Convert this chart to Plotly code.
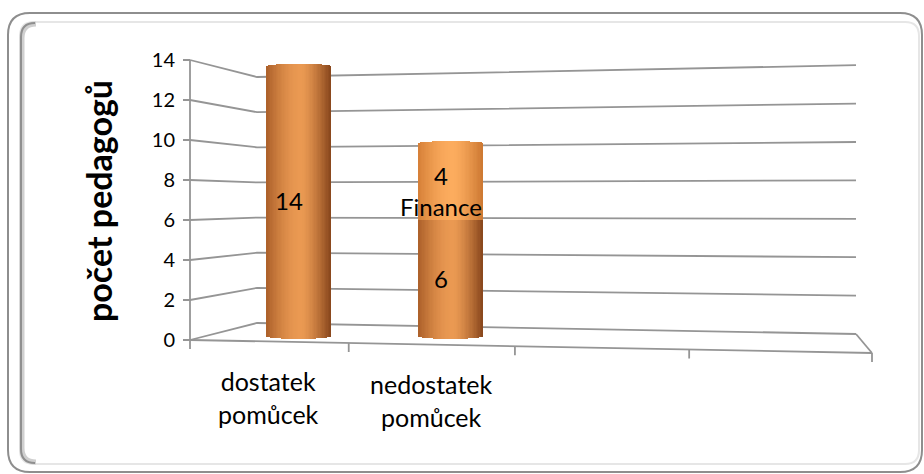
import numpy as np
import plotly.graph_objects as go

# ---- data -------------------------------------------------------------
categories = ["dostatek<br>pomůcek", "nedostatek<br>pomůcek"]
series_names = ["Pomůcky", "Finance"]
values_pomucky = [14, 6]
values_finance = [0, 4]
show_series_name = [False, True]
y_ticks = [0, 2, 4, 6, 8, 10, 12, 14]
n_slots = 4  # category slots along the floor (two left empty)

# ---- canvas / projection set-up ---------------------------------------
W, H = 924, 474
FLOOR_PY = 340.0     # front floor line at the value axis
PX_PER_UNIT = 20.0   # front wall scale


def U(py):
    """Screen row -> value units of the front wall axis."""
    return (FLOOR_PY - py) / PX_PER_UNIT


FRONT_X0, FRONT_X1 = 190.0, 872.0
FRONT_Y1 = 353.0
BACK_X0, BACK_X1 = 257.0, 856.0


def back_left(v):
    return U(323.0 - 17.57 * v)


def back_right(v):
    return U(334.0 - 19.2 * v)


def front_edge_py(x):
    return FLOOR_PY + (x - FRONT_X0) / (FRONT_X1 - FRONT_X0) * (FRONT_Y1 - FLOOR_PY)


def slot_x(t, g=-0.09):
    f = t * (1 + g) / (1 + g * t)
    return FRONT_X0 + (FRONT_X1 - FRONT_X0) * f


GRID = "#959595"
fig = go.Figure()

# walls: gridlines bent from side wall onto the back wall
gx, gy = [], []
for v in y_ticks:
    gx += [FRONT_X0, BACK_X0, BACK_X1, None]
    gy += [v, back_left(v), back_right(v), None]
fig.add_trace(go.Scatter(x=gx, y=gy, mode="lines",
                         line=dict(color=GRID, width=1.8), hoverinfo="skip",
                         showlegend=False))

# floor outline, value axis line and category ticks
fx = [FRONT_X0, FRONT_X1, None, BACK_X1, FRONT_X1, None, FRONT_X0, FRONT_X0, None]
fy = [0, U(FRONT_Y1), None, back_right(0), U(FRONT_Y1), None, 0, y_ticks[-1], None]
for k in range(n_slots + 1):
    x = slot_x(k / n_slots)
    py = front_edge_py(x)
    fx += [x, x, None]
    fy += [U(py), U(py + 9), None]
fig.add_trace(go.Scatter(x=fx, y=fy, mode="lines",
                         line=dict(color=GRID, width=1.8), hoverinfo="skip",
                         showlegend=False))

# ---- cylinders (drawn on an overlaying subplot so they sit above the walls)
BAR_X0, BAR_STEP, BAR_W = 299.0, 152.0, 64.0
BAR_BASE = U(336.0)
BAR_SCALE = 19.29 / PX_PER_UNIT
TOP_BULGE, BOTTOM_BULGE = 2.0 / PX_PER_UNIT, 3.0 / PX_PER_UNIT
N_SLICES = 48

palettes = [
    ((172, 96, 42), (234, 153, 82), (136, 70, 28)),
    ((214, 128, 56), (252, 172, 94), (204, 120, 50)),
]


def shade(s, pal, peak=0.55):
    left, mid, right = (np.array(c, float) for c in pal)
    if s <= peak:
        t = np.sin(s / peak * np.pi / 2)
        c = left + (mid - left) * t
    else:
        t = ((s - peak) / (1 - peak)) ** 1.4
        c = mid + (right - mid) * t
    return "rgb(%d,%d,%d)" % tuple(np.round(c).astype(int))


series = [values_pomucky, values_finance]
totals = np.sum(series, axis=0)
slice_w = BAR_W / N_SLICES
for si, (name, vals) in enumerate(zip(series_names, series)):
    xs, bases, heights, colors = [], [], [], []
    below = np.sum(series[:si], axis=0) if si else np.zeros(len(vals))
    for ci, v in enumerate(vals):
        if v == 0:
            continue
        cx = BAR_X0 + BAR_STEP * ci
        is_top = below[ci] + v == totals[ci]
        for k in range(N_SLICES):
            s = (k + 0.5) / N_SLICES
            e = np.sqrt(max(0.0, 1 - (2 * s - 1) ** 2))
            b = BAR_BASE + BAR_SCALE * below[ci]
            top = b + BAR_SCALE * v
            if si == 0:
                b -= BOTTOM_BULGE * e
            if is_top:
                top += TOP_BULGE * e
            xs.append(cx - BAR_W / 2 + (k + 0.5) * slice_w)
            bases.append(b)
            heights.append(top - b)
            colors.append(shade(s, palettes[si]))
    fig.add_trace(go.Bar(x=xs, y=heights, base=bases, width=slice_w * 1.15,
                         marker=dict(color=colors, line=dict(width=0)),
                         name=name, hoverinfo="skip", showlegend=False,
                         xaxis="x2", yaxis="y2"))

# data labels
LABEL_FONT = dict(family="Lato", size=24, color="#000000")
for si, (name, vals) in enumerate(zip(series_names, series)):
    below = np.sum(series[:si], axis=0) if si else np.zeros(len(vals))
    for ci, v in enumerate(vals):
        if v == 0:
            continue
        cx = BAR_X0 + BAR_STEP * ci
        mid = BAR_BASE + BAR_SCALE * (below[ci] + v / 2)
        text = f"{v}<br>{name}" if show_series_name[si] else f"{v}"
        fig.add_annotation(x=cx, y=mid, text=text, showarrow=False,
                           xshift=-10, yshift=-9 if show_series_name[si] else 0,
                           font=LABEL_FONT, xanchor="center", yanchor="middle")

# category labels below the floor
CAT_FONT = dict(family="Lato", size=25, color="#000000")
for ci, cat in enumerate(categories):
    x = slot_x((ci + 0.5) / n_slots)
    fig.add_annotation(x=x, y=U(front_edge_py(x) + 56), text=cat,
                       showarrow=False, font=CAT_FONT,
                       xanchor="center", yanchor="middle")

# value axis title
fig.add_annotation(xref="paper", yref="paper", x=98 / W, y=1 - 201 / H,
                   text="<b>počet pedagogů</b>", textangle=-90, showarrow=False,
                   font=dict(family="Lato", size=34, color="#000000"),
                   xanchor="center", yanchor="middle")


# ---- frame -------------------------------------------------------------
def rounded_rect(x0, y0, x1, y1, r):
    X = lambda px: px / W
    Y = lambda py: 1 - py / H
    return (f"M {X(x0 + r)},{Y(y0)} L {X(x1 - r)},{Y(y0)} "
            f"Q {X(x1)},{Y(y0)} {X(x1)},{Y(y0 + r)} L {X(x1)},{Y(y1 - r)} "
            f"Q {X(x1)},{Y(y1)} {X(x1 - r)},{Y(y1)} L {X(x0 + r)},{Y(y1)} "
            f"Q {X(x0)},{Y(y1)} {X(x0)},{Y(y1 - r)} L {X(x0)},{Y(y0 + r)} "
            f"Q {X(x0)},{Y(y0)} {X(x0 + r)},{Y(y0)} Z")


def left_edge(x0, y0, y1, r):
    X = lambda px: px / W
    Y = lambda py: 1 - py / H
    return (f"M {X(x0 + r)},{Y(y0)} Q {X(x0)},{Y(y0)} {X(x0)},{Y(y0 + r)} "
            f"L {X(x0)},{Y(y1 - r)} Q {X(x0)},{Y(y1)} {X(x0 + r)},{Y(y1)}")


fig.add_shape(type="path", xref="paper", yref="paper",
              path=rounded_rect(8, 13, 922, 472, 22),
              line=dict(color="#8e8e8e", width=2))
fig.add_shape(type="path", xref="paper", yref="paper",
              path=rounded_rect(20, 22, 919, 464, 14),
              line=dict(color="#e6e6e6", width=2))
fig.add_shape(type="path", xref="paper", yref="paper",
              path=left_edge(22, 24, 462, 14),
              line=dict(color="#cfcfcf", width=5))
fig.add_shape(type="path", xref="paper", yref="paper",
              path=left_edge(21, 23, 463, 14),
              line=dict(color="#8f8f8f", width=2))

y_range = [U(H), U(0)]
fig.update_layout(
    width=W, height=H, margin=dict(l=0, r=0, t=0, b=0),
    paper_bgcolor="white", plot_bgcolor="rgba(0,0,0,0)",
    barmode="overlay", bargap=0, showlegend=False,
    xaxis=dict(range=[0, W], visible=False, fixedrange=True),
    yaxis=dict(range=y_range, tickvals=y_ticks, showgrid=False,
               zeroline=False, showline=False, ticks="outside", ticklen=7,
               tickwidth=1.8, tickcolor=GRID, anchor="free",
               position=FRONT_X0 / W, ticklabelstandoff=4,
               tickfont=dict(family="Lato", size=20, color="#000000"),
               fixedrange=True),
    xaxis2=dict(range=[0, W], visible=False, overlaying="x", fixedrange=True),
    yaxis2=dict(range=y_range, visible=False, overlaying="y", fixedrange=True),
)

fig.write_html("out.html")
